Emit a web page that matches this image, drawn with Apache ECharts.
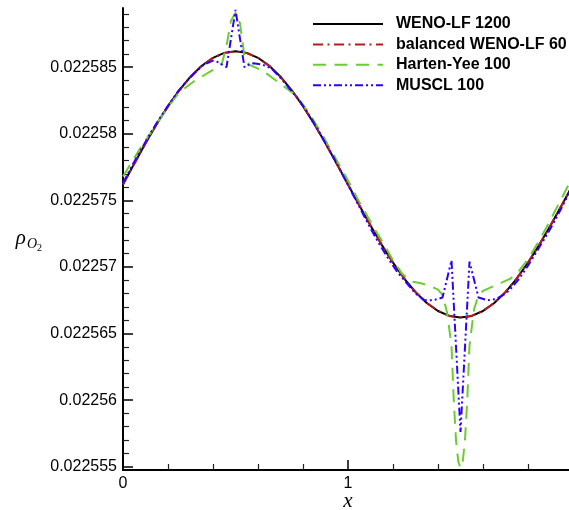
<!DOCTYPE html>
<html>
<head>
<meta charset="utf-8">
<script src="https://cdn.jsdelivr.net/npm/echarts@6/dist/echarts.min.js"></script>
<style>
html,body{margin:0;padding:0;background:#fff;}
#chart{width:569px;height:510px;}
</style>
</head>
<body>
<div id="chart"></div>
<script>
// ---- data ----
const seriesNames = ['WENO-LF 1200', 'balanced WENO-LF 60', 'Harten-Yee 100', 'MUSCL 100'];

const xTickValues = [0, 1, 2];
const yTickValues = [0.022555, 0.02256, 0.022565, 0.02257, 0.022575, 0.02258, 0.022585];

// WENO-LF 1200 (reference)
const xRef = [0,0.05,0.1,0.15,0.2,0.25,0.3,0.35,0.4,0.45,0.5,0.55,0.6,0.65,0.7,0.75,0.8,0.85,0.9,0.95,
              1,1.05,1.1,1.15,1.2,1.25,1.3,1.35,1.4,1.45,1.5,1.55,1.6,1.65,1.7,1.75,1.8,1.85,1.9,1.95,2];
const yRef = [0.0225762,0.02257776,0.02257929,0.02258074,0.02258208,0.02258327,0.02258429,0.02258511,0.02258571,0.02258608,
              0.0225862,0.02258608,0.02258571,0.02258511,0.02258429,0.02258327,0.02258208,0.02258074,0.02257929,0.02257776,
              0.0225762,0.02257464,0.02257311,0.02257166,0.02257032,0.02256913,0.02256811,0.02256729,0.02256669,0.02256632,
              0.0225662,0.02256632,0.02256669,0.02256729,0.02256811,0.02256913,0.02257032,0.02257166,0.02257311,0.02257464,0.0225762];

// balanced WENO-LF 60
const xBal = [0,0.05,0.1,0.15,0.2,0.25,0.3,0.35,0.4,0.45,0.5,0.55,0.6,0.65,0.7,0.75,0.8,0.85,0.9,0.95,
              1,1.05,1.1,1.15,1.2,1.25,1.3,1.35,1.4,1.45,1.5,1.55,1.6,1.65,1.7,1.75,1.8,1.85,1.9,1.95,2];
const yBal = [0.0225762,0.02257775,0.02257928,0.02258073,0.02258207,0.02258326,0.02258428,0.0225851,0.0225857,0.02258607,
              0.02258619,0.02258607,0.0225857,0.0225851,0.02258428,0.02258326,0.02258207,0.02258073,0.02257928,0.02257775,
              0.0225762,0.02257465,0.02257312,0.02257167,0.02257033,0.02256914,0.02256812,0.0225673,0.0225667,0.02256633,
              0.02256621,0.02256633,0.0225667,0.0225673,0.02256812,0.02256914,0.02257033,0.02257167,0.02257312,0.02257465,0.0225762];

// Harten-Yee 100
const xHY = [0,0.04,0.08,0.12,0.16,0.2,0.24,0.28,0.32,0.36,0.4,0.42,0.44,0.46,0.48,0.5,0.52,0.54,0.56,0.6,
             0.64,0.68,0.72,0.76,0.8,0.84,0.88,0.92,0.96,1,1.04,1.08,1.12,1.16,1.2,1.24,1.28,1.32,1.36,1.4,
             1.42,1.44,1.46,1.47,1.48,1.49,1.5,1.51,1.52,1.53,1.54,1.56,1.58,1.6,1.64,1.68,1.72,1.76,1.8,1.84,
             1.88,1.92,1.96,2];
const yHY = [0.0225768,0.0225779,0.022579,0.02258,0.022581,0.022582,0.0225829,0.0225835,0.022584,0.0225844,
             0.0225848,0.0225851,0.0225853,0.0225866,0.0225885,0.0225891,0.0225883,0.0225858,0.0225852,0.0225849,
             0.0225845,0.022584,0.0225835,0.022583,0.0225822,0.0225812,0.0225801,0.0225789,0.0225777,0.0225765,
             0.0225752,0.022574,0.0225728,0.0225717,0.0225705,0.0225695,0.0225689,0.0225688,0.0225686,0.0225683,
             0.0225679,0.0225666,0.0225641,0.02256,0.022557,0.0225554,0.0225549,0.0225554,0.022557,0.02256,
             0.0225641,0.0225668,0.0225679,0.0225682,0.0225685,0.0225688,0.0225691,0.0225697,0.0225706,0.0225717,
             0.0225729,0.0225742,0.0225755,0.0225768];

// MUSCL 100
const xMU = [0,0.04,0.08,0.12,0.16,0.2,0.24,0.28,0.32,0.36,0.4,0.42,0.44,0.46,0.5,0.54,0.56,0.58,0.62,0.66,
             0.7,0.74,0.78,0.82,0.86,0.9,0.94,0.98,1.02,1.06,1.1,1.14,1.18,1.22,1.26,1.3,1.34,1.38,1.42,1.46,
             1.5,1.54,1.58,1.62,1.66,1.7,1.72,1.76,1.8,1.84,1.88,1.92,1.96,2];
const yMU = [0.0225763,0.0225776,0.0225788,0.02258,0.0225811,0.0225821,0.0225831,0.0225839,0.0225846,0.0225852,
             0.0225855,0.0225854,0.0225852,0.022585,0.0225893,0.022585,0.0225852,0.0225853,0.0225852,0.0225849,
             0.0225842,0.0225834,0.0225826,0.0225816,0.0225805,0.0225793,0.0225781,0.0225768,0.0225755,0.0225742,
             0.0225729,0.0225717,0.0225706,0.0225696,0.0225688,0.022568,0.0225675,0.0225675,0.0225677,0.0225705,
             0.0225576,0.0225704,0.0225677,0.0225675,0.0225676,0.022568,0.0225683,0.0225691,0.0225701,0.0225712,
             0.0225723,0.0225735,0.0225748,0.0225761];

// ---- chart ----
const pairs = (xs, ys) => xs.map((x, i) => [x, ys[i]]);
const FONT = "'Liberation Sans', Arial, Helvetica, sans-serif";
const SERIF = "'Liberation Serif', 'DejaVu Serif', 'Times New Roman', serif";

const chart = echarts.init(document.getElementById('chart'), null, {renderer: 'canvas'});

const lineSeries = (name, data, color, type, z) => ({
  name: name,
  type: 'line',
  data: data,
  showSymbol: false,
  symbol: 'none',
  smooth: false,
  z: z,
  lineStyle: {color: color, width: 2, type: type},
  itemStyle: {color: color},
  emphasis: {disabled: true},
  animation: false
});

chart.setOption({
  animation: false,
  backgroundColor: '#ffffff',
  grid: {left: 123, top: 8, width: 450, height: 462, containLabel: false, outerBoundsMode: 'none'},
  legend: {
    orient: 'vertical',
    left: 307,
    top: 11,
    itemWidth: 70,
    itemHeight: 14,
    itemGap: 4.4,
    itemStyle: {opacity: 0, borderWidth: 0},
    textStyle: {fontFamily: FONT, fontSize: 16, fontWeight: 'bold', color: '#000', padding: [0, 0, 0, 8]},
    data: seriesNames
  },
  xAxis: {
    type: 'value',
    min: 0, max: 2, interval: 1,
    name: 'x',
    nameLocation: 'middle',
    nameGap: 21,
    nameMoveOverlap: false,
    nameTextStyle: {fontFamily: SERIF, fontStyle: 'italic', fontSize: 21, color: '#000'},
    axisLine: {show: true, onZero: false, lineStyle: {color: '#000', width: 2}},
    axisTick: {show: true, inside: true, length: 10, lineStyle: {color: '#000', width: 1.5}},
    minorTick: {show: true, splitNumber: 5, length: 6, lineStyle: {color: '#222', width: 1.2}},
    axisLabel: {fontFamily: FONT, fontSize: 16, color: '#000', margin: 6,
      customValues: xTickValues, formatter: v => String(v)},
    splitLine: {show: false}
  },
  yAxis: {
    type: 'value',
    min: 0.02255475, max: 0.02258945,
    name: '{r|ρ}{s|O}{t|2}',
    nameLocation: 'middle',
    nameRotate: 0,
    nameGap: 81,
    nameMoveOverlap: false,
    nameTextStyle: {
      rich: {
        r: {fontFamily: SERIF, fontStyle: 'italic', fontSize: 21, color: '#000', lineHeight: 22, verticalAlign: 'top'},
        s: {fontFamily: SERIF, fontStyle: 'italic', fontSize: 14, color: '#000', lineHeight: 14, padding: [9, 0, 0, 1], verticalAlign: 'top'},
        t: {fontFamily: SERIF, fontSize: 10, color: '#000', lineHeight: 10, padding: [15, 0, 0, 0], verticalAlign: 'top'}
      }
    },
    axisLine: {show: true, onZero: false, lineStyle: {color: '#000', width: 2}},
    axisTick: {show: true, inside: true, length: 10, customValues: yTickValues, lineStyle: {color: '#000', width: 1.5}},
    minorTick: {show: true, splitNumber: 5, length: 6, lineStyle: {color: '#222', width: 1.2}},
    axisLabel: {fontFamily: FONT, fontSize: 16, color: '#000', margin: 6,
      customValues: yTickValues, formatter: v => String(v)},
    splitLine: {show: false}
  },
  series: [
    lineSeries(seriesNames[0], pairs(xRef, yRef), '#000000', 'solid', 2),
    lineSeries(seriesNames[1], pairs(xBal, yBal), '#b01e1e', [10, 4.5, 2, 4.5], 3),
    lineSeries(seriesNames[2], pairs(xHY, yHY), '#6ccc34', [13, 8.5], 4),
    lineSeries(seriesNames[3], pairs(xMU, yMU), '#3000ff', [8, 3, 2, 3, 2, 3], 5)
  ]
});
</script>
</body>
</html>
